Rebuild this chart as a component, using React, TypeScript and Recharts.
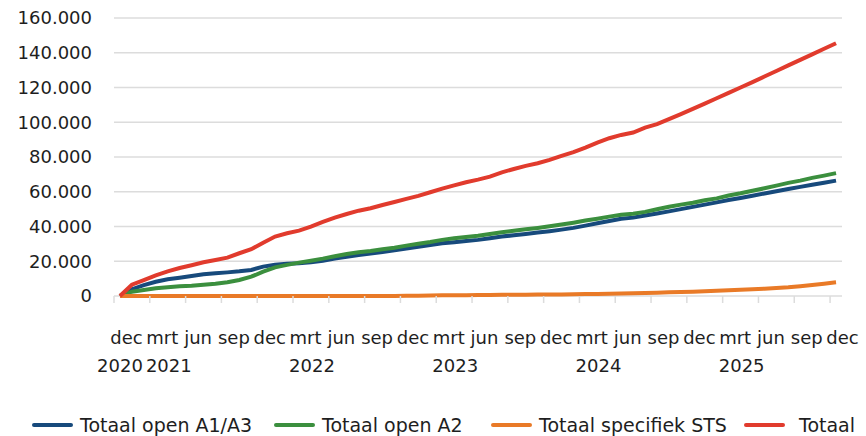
import { LineChart, Line, XAxis, YAxis, CartesianGrid } from "recharts";

const MONTHS = [
    "dec 2020",
    "jan 2021", "feb 2021", "mrt 2021", "apr 2021", "mei 2021", "jun 2021",
    "jul 2021", "aug 2021", "sep 2021", "okt 2021", "nov 2021", "dec 2021",
    "jan 2022", "feb 2022", "mrt 2022", "apr 2022", "mei 2022", "jun 2022",
    "jul 2022", "aug 2022", "sep 2022", "okt 2022", "nov 2022", "dec 2022",
    "jan 2023", "feb 2023", "mrt 2023", "apr 2023", "mei 2023", "jun 2023",
    "jul 2023", "aug 2023", "sep 2023", "okt 2023", "nov 2023", "dec 2023",
    "jan 2024", "feb 2024", "mrt 2024", "apr 2024", "mei 2024", "jun 2024",
    "jul 2024", "aug 2024", "sep 2024", "okt 2024", "nov 2024", "dec 2024",
    "jan 2025", "feb 2025", "mrt 2025", "apr 2025", "mei 2025", "jun 2025",
    "jul 2025", "aug 2025", "sep 2025", "okt 2025", "nov 2025", "dec 2025",
];

const OPEN_A1A3 = [
    0, 3900, 6300, 8200, 9600, 10500, 11500, 12500, 13100, 13600, 14200, 15000, 16900,
    18000, 18600, 18900, 19400, 20300, 21500, 22600, 23600, 24400, 25300, 26300, 27300,
    28400, 29400, 30300, 31000, 31600, 32300, 33200, 34200, 35000, 35700, 36500, 37300,
    38200, 39200, 40500, 41900, 43200, 44500, 45100, 46300, 47500, 48700, 50000, 51300,
    52600, 53900, 55200, 56400, 57700, 59000, 60300, 61600, 62800, 64000, 65200, 66400,
];

const OPEN_A2 = [
    0, 2500, 3500, 4400, 5000, 5600, 5900, 6500, 7100, 7900, 9200, 11100, 14000,
    16500, 17900, 19200, 20300, 21500, 22900, 24200, 25200, 25900, 26900, 27800, 29000,
    30100, 31100, 32300, 33200, 34000, 34700, 35700, 36700, 37600, 38400, 39200, 40100,
    41100, 42200, 43400, 44500, 45700, 46800, 47400, 48400, 49900, 51400, 52600, 53700,
    55100, 56200, 57800, 59100, 60600, 62000, 63500, 65100, 66400, 68000, 69300, 70700,
];

const SPECIFIEK_STS = [
    0, 0, 0, 0, 0, 0, 0, 0, 0, 0, 0, 0, 0,
    0, 0, 0, 0, 0, 0, 0, 0, 0, 0, 0, 100,
    200, 300, 400, 450, 500, 550, 600, 650, 700, 750, 800, 850,
    900, 1000, 1100, 1200, 1300, 1450, 1600, 1750, 1900, 2100, 2300, 2500,
    2750, 3000, 3300, 3600, 3900, 4200, 4600, 5000, 5600, 6300, 7100, 7900,
];

const TOTAAL = [
    0, 6500, 9200, 11900, 14200, 16100, 17700, 19400, 20700, 22100, 24600, 26900, 30700,
    34200, 36100, 37600, 39900, 42600, 45100, 47200, 49100, 50500, 52400, 54100, 55900,
    57600, 59700, 61800, 63700, 65500, 67000, 68700, 71200, 73100, 74900, 76400, 78300,
    80600, 82800, 85400, 88300, 90800, 92700, 94100, 96900, 98900, 101800, 104700, 107700,
    110700, 113800, 116900, 120000, 123100, 126300, 129500, 132700, 135900, 139100, 142300, 145500,
];

const Y_TICKS = [0, 20000, 40000, 60000, 80000, 100000, 120000, 140000, 160000];

const SERIES = [
    { key: "a1a3", name: "Totaal open A1/A3", color: "#174a7c" },
    { key: "a2", name: "Totaal open A2", color: "#3b8f3e" },
    { key: "sts", name: "Totaal specifiek STS", color: "#e97a27" },
    { key: "totaal", name: "Totaal", color: "#e13b2d" },
];

const FONT = "'DejaVu Sans', sans-serif";
const TEXT = "#1e1e1e";
const GRID = "#dcdcdc";
const LEGEND_LEFT = [32, 274, 491, 744];

const data = MONTHS.map((month, i) => ({
    t: i + 0.5,
    month,
    a1a3: OPEN_A1A3[i],
    a2: OPEN_A2[i],
    sts: SPECIFIEK_STS[i],
    totaal: TOTAAL[i],
}));

// tick marks sit on the quarter boundaries
const X_TICKS = MONTHS.map((_, i) => i).filter((i) => i % 3 === 0);

const formatNL = (v: number) => String(v).replace(/\B(?=(\d{3})+(?!\d))/g, ".");

function MonthTick(props: any) {
    const { x, payload } = props;
    const idx = payload.value;
    const [mon, year] = MONTHS[idx].split(" ");
    const showYear = idx === 0 || mon === "mrt";
    return (
        <g fontFamily={FONT} fontSize={18} fill={TEXT}>
            <text x={x + 12.5} y={344} textAnchor="middle">
                {mon}
            </text>
            {showYear && (
                <text x={x + (idx === 0 ? 6 : 19)} y={372} textAnchor="middle">
                    {year}
                </text>
            )}
        </g>
    );
}

export default function App() {
    return (
        <div style={{ position: "relative", width: 866, height: 436, background: "#fff", overflow: "hidden" }}>
            <style>{`body { margin: 0; }`}</style>
            <LineChart
                width={866}
                height={436}
                data={data}
                margin={{ top: 18, right: 24, left: 0, bottom: 0 }}
            >
                <CartesianGrid vertical={false} stroke={GRID} strokeWidth={1.5} />
                <XAxis
                    dataKey="t"
                    type="number"
                    domain={[0, 61]}
                    ticks={X_TICKS}
                    interval={0}
                    height={140}
                    axisLine={false}
                    tickLine={{ stroke: GRID, strokeWidth: 1.5 }}
                    tickSize={7}
                    tick={<MonthTick />}
                />
                <YAxis
                    domain={[0, 160000]}
                    ticks={Y_TICKS}
                    width={114}
                    axisLine={false}
                    tickLine={false}
                    tickSize={0}
                    tickMargin={22}
                    tickFormatter={formatNL}
                    tick={{ fontSize: 18, fill: TEXT, fontFamily: FONT }}
                />
                {SERIES.map((s) => (
                    <Line
                        key={s.key}
                        type="linear"
                        dataKey={s.key}
                        name={s.name}
                        stroke={s.color}
                        strokeWidth={4}
                        dot={false}
                        isAnimationActive={false}
                    />
                ))}
            </LineChart>
            {SERIES.map((s, i) => (
                <div
                    key={s.key}
                    style={{
                        position: "absolute",
                        left: LEGEND_LEFT[i],
                        top: 412,
                        height: 26,
                        display: "flex",
                        alignItems: "center",
                        whiteSpace: "nowrap",
                        fontFamily: FONT,
                        fontSize: 19,
                        color: TEXT,
                    }}
                >
                    <span
                        style={{
                            display: "inline-block",
                            width: 41,
                            height: 4,
                            borderRadius: 2,
                            background: s.color,
                            marginRight: i === 3 ? 14 : 7,
                        }}
                    />
                    {s.name}
                </div>
            ))}
        </div>
    );
}
